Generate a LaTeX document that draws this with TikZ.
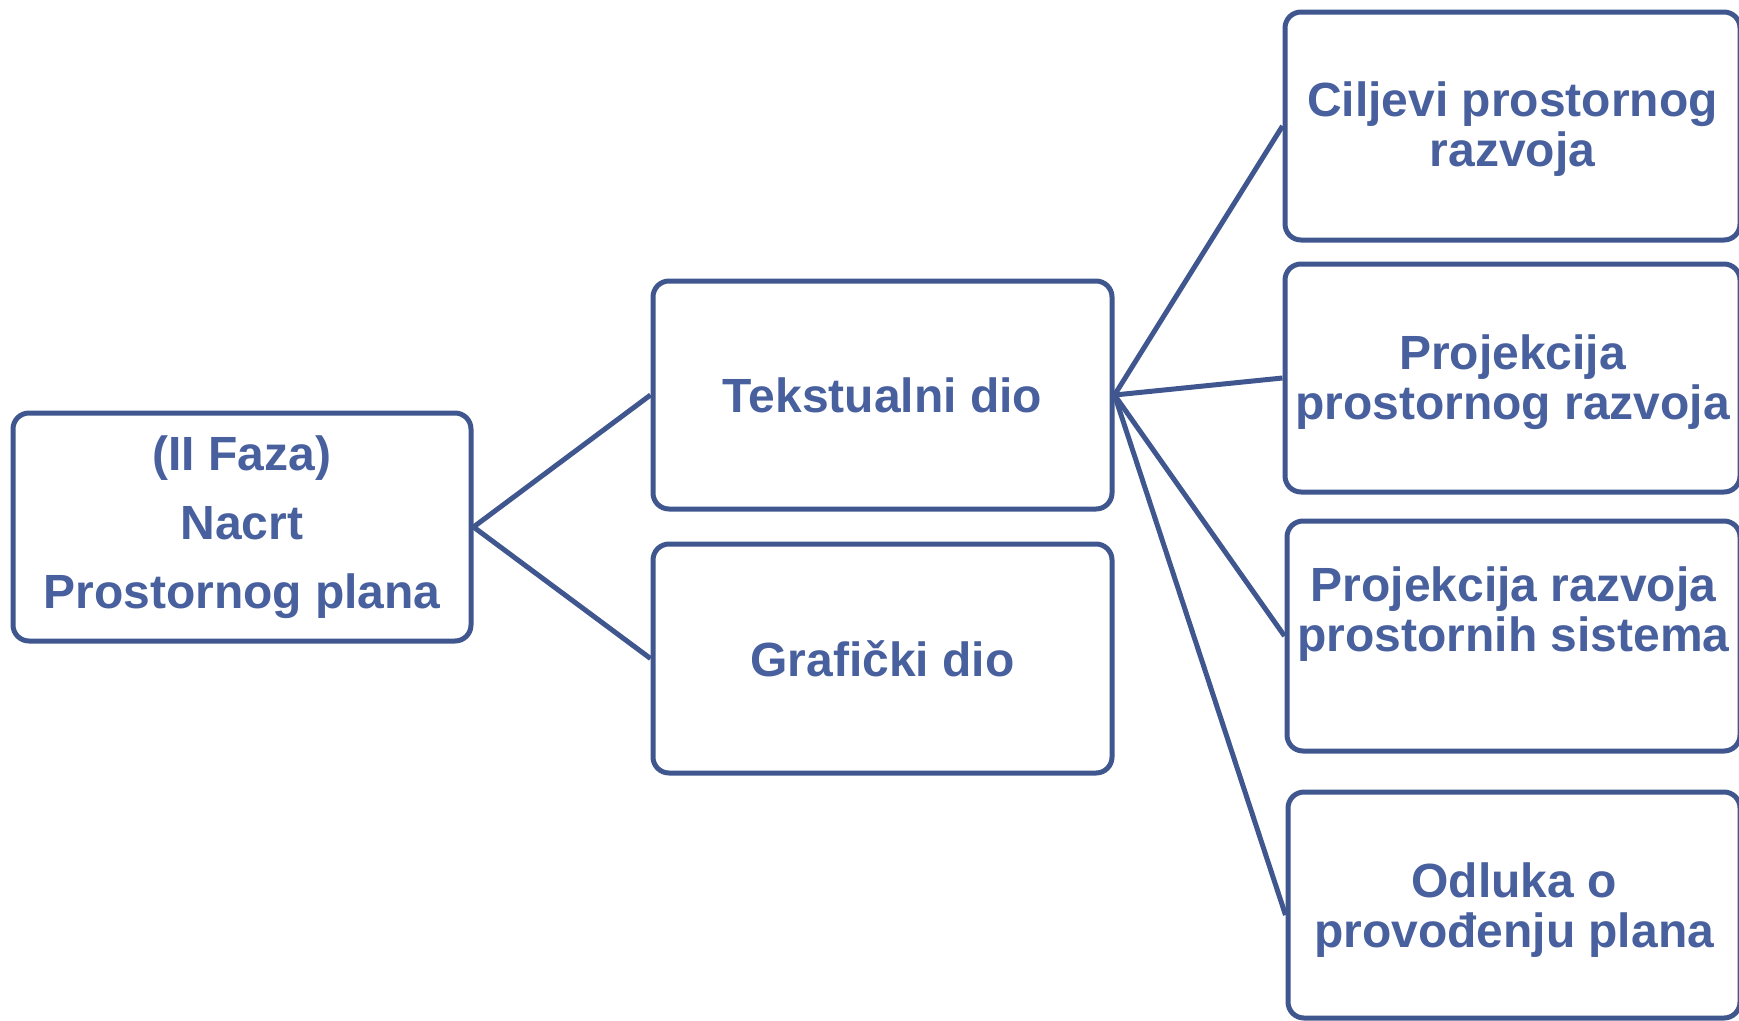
\documentclass[tikz,border=0pt]{standalone}
\usepackage{fontspec}
\setmainfont{Liberation Sans}
\definecolor{lineblue}{RGB}{63,86,142}
\definecolor{textblue}{RGB}{72,96,158}
\begin{document}
\begin{tikzpicture}[x=1pt,y=-1pt,
  box/.style={draw=lineblue, line width=5pt, rounded corners=16pt, fill=white,
    inner sep=0pt, anchor=center},
  txt/.style={text=textblue, font=\fontsize{48}{50}\selectfont\bfseries, align=center, inner sep=0pt},
  conn/.style={draw=lineblue, line width=5pt}]
\useasboundingbox (0,0) rectangle (1739,1020);
\clip (0,0) rectangle (1739,1020);
% boxes
\node[box, minimum width=458pt, minimum height=228pt] (root) at (242,527) {};
\node[box, minimum width=459pt, minimum height=228pt] (tek) at (882.5,395) {};
\node[box, minimum width=459pt, minimum height=229pt] (gra) at (882.5,658.5) {};
\node[box, minimum width=455pt, minimum height=228pt] (cil) at (1512.5,126) {};
\node[box, minimum width=455pt, minimum height=228pt] (pr1) at (1512.5,378) {};
\node[box, minimum width=453pt, minimum height=230pt] (pr2) at (1513.5,636) {};
\node[box, minimum width=452pt, minimum height=226pt] (odl) at (1514,905) {};
% texts
\node[txt, font=\fontsize{48}{69}\selectfont\bfseries] (troot) at (root.center) {(II Faza)\\Nacrt\\Prostornog plana};
\node[txt] (ttek) at (tek.center) {Tekstualni dio};
\node[txt] (tgra) at (gra.center) {Grafički dio};
\node[txt] (tcil) at ([yshift=-3pt]cil.center) {Ciljevi prostornog\\razvoja};
\node[txt] (tpr1) at ([yshift=-4pt]pr1.center) {Projekcija\\prostornog razvoja};
\node[txt] (tpr2) at ([yshift=22pt]pr2.center) {Projekcija razvoja\\prostornih sistema};
\node[txt] (todl) at ([yshift=-5pt]odl.center) {Odluka o\\provođenju plana};
% connectors
\coordinate (odlin) at ([yshift=-10pt]odl.west);
\draw[conn] (root.east) -- (tek.west);
\draw[conn] (root.east) -- (gra.west);
\draw[conn] (tek.east) -- (cil.west);
\draw[conn] (tek.east) -- (pr1.west);
\draw[conn] (tek.east) -- (pr2.west);
\draw[conn] (tek.east) -- (odlin);
\end{tikzpicture}
\end{document}
